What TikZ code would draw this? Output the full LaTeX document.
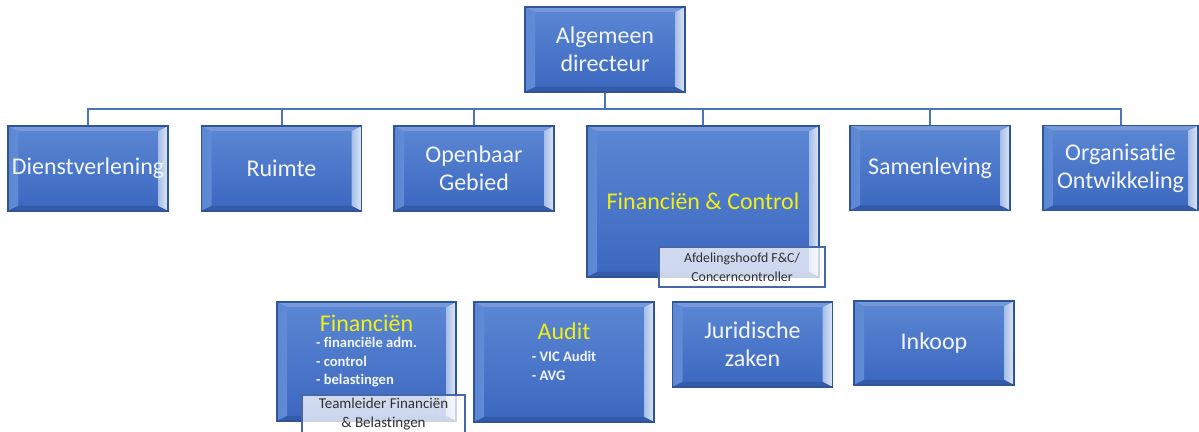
\documentclass[tikz,border=0pt]{standalone}
\usepackage{fontspec}
\setmainfont{Carlito}[Ligatures=NoCommon]
\usetikzlibrary{positioning, calc}
\definecolor{facetop}{HTML}{5C87D4}
\definecolor{facebottom}{HTML}{3B67C0}
\definecolor{unitedge}{HTML}{2F5597}
\definecolor{unittext}{HTML}{F2F6FC}
\definecolor{headyellow}{HTML}{F0F014}
\definecolor{linkblue}{HTML}{4A74BC}
\definecolor{capedge}{HTML}{4767A6}
\definecolor{captext}{HTML}{303030}

\tikzset{
  unitbox/.style={draw=unitedge, line width=0.6pt, top color=facetop, bottom color=facebottom,
    text=unittext, font=\fontsize{12}{14}\selectfont, align=center, inner sep=0pt,
    minimum width=80pt, minimum height=42.5pt,
    path picture={
      % bevelled rim: light sides, soft top, dark bottom
      \shade[left color=facetop, right color=white!55!facetop]
        (path picture bounding box.north west) -- ++(10,5)
        -- ($(path picture bounding box.south west)+(10,-5)$) -- (path picture bounding box.south west) -- cycle;
      \shade[left color=white!45!facetop, right color=white!80!facetop]
        (path picture bounding box.north east) -- ++(-10,5)
        -- ($(path picture bounding box.south east)+(-10,-5)$) -- (path picture bounding box.south east) -- cycle;
      \fill[white!15!facetop]
        (path picture bounding box.north west) -- (path picture bounding box.north east)
        -- ++(-10,5) -- ($(path picture bounding box.north west)+(10,5)$) -- cycle;
      \fill[black!12!facebottom]
        (path picture bounding box.south west) -- (path picture bounding box.south east)
        -- ++(-10,-5) -- ($(path picture bounding box.south west)+(10,-5)$) -- cycle;
    }},
  capbox/.style={draw=capedge, line width=0.6pt, fill=white, fill opacity=0.75, text opacity=1,
    text=captext, font=\fontsize{7.5}{9.5}\selectfont, align=center, inner sep=0pt},
  orgline/.style={draw=linkblue, line width=1pt}
}

\begin{document}
\begin{tikzpicture}[x=0.5pt, y=-0.5pt]
  \useasboundingbox (0,0) rectangle (1199,432);
  \clip (0,0) rectangle (1199,432);

  % director
  \node (ad) [unitbox] at (605,49.5) {Algemeen\\directeur};

  % departments
  \node (dv) [unitbox] at (88,168.5) {Dienstverlening};
  \node (rm) [unitbox] at (281.5,168.5) {Ruimte};
  \node (og) [unitbox] at (474,168.5) {Openbaar\\Gebied};
  \node (fc) [unitbox, minimum width=116pt, minimum height=75.5pt, text=headyellow] at (703,201.5) {Financiën \& Control};
  \node (sl) [unitbox] at (930,168) {Samenleving};
  \node (oo) [unitbox, minimum width=77.5pt] at (1120.5,168) {Organisatie\\Ontwikkeling};

  \foreach \unit in {dv,rm,og,fc,sl,oo}
    \draw[orgline] (ad.south) -- ++(0,16.5) -| (\unit.north);

  \node (fcCap) [capbox, minimum width=83pt, minimum height=20pt, font=\fontsize{6.9}{9.5}\selectfont] at (742,267) {Afdelingshoofd F\&C/\\Concerncontroller};

  % teams under F&C
  \node (fin) [unitbox, minimum width=89.5pt, minimum height=59.5pt] at (366.5,361.5) {};
  \node (aud) [unitbox, minimum width=90pt, minimum height=60pt] at (564,362) {};
  \node (jur) [unitbox] at (752.5,344.5) {Juridische\\zaken};
  \node (ink) [unitbox, minimum height=42pt] at (934,343) {Inkoop};

  \node (finText) [anchor=north, text=unittext, inner sep=0pt] at ($(fin.north)+(0,13.4)$) {%
    \fontsize{7.3}{9.25}\selectfont\bfseries
    \begin{tabular}{@{}l@{}}
      \multicolumn{1}{@{}c@{}}{\fontsize{12}{14}\selectfont\mdseries\color{headyellow}Financiën}\\[-1.25pt]
      - financiële adm.\\
      - control\\
      - belastingen
    \end{tabular}};
  \node (audText) [anchor=north, text=unittext, inner sep=0pt] at ($(aud.north)+(0,21.4)$) {%
    \fontsize{7.3}{9.25}\selectfont\bfseries
    \begin{tabular}{@{}l@{}}
      \multicolumn{1}{@{}c@{}}{\fontsize{12}{14}\selectfont\mdseries\color{headyellow}Audit}\\[1.75pt]
      - VIC Audit\\
      - AVG
    \end{tabular}};

  \node (finCap) [capbox, minimum width=81.5pt, minimum height=19.5pt] at (383.5,414.5) {Teamleider Financiën\\\& Belastingen};
\end{tikzpicture}
\end{document}
